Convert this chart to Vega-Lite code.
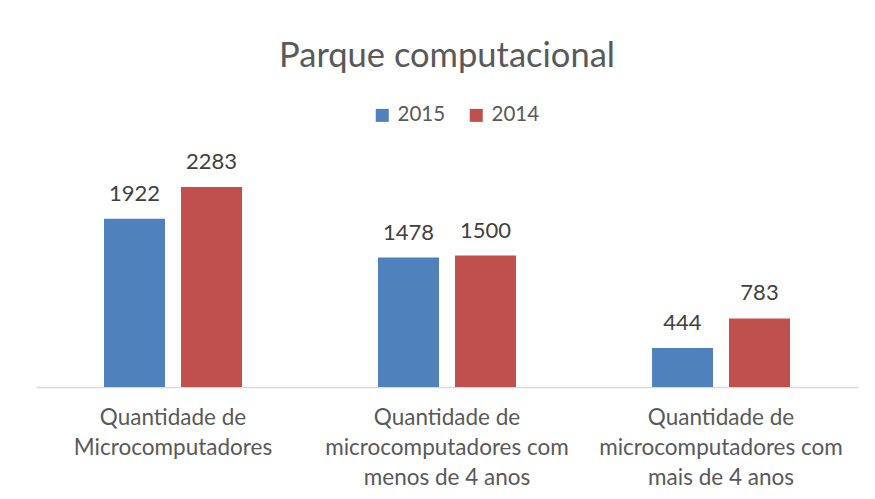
{
  "$schema": "https://vega.github.io/schema/vega-lite/v6.json",
  "autosize": {"type": "none"},
  "width": 822,
  "height": 200,
  "padding": {"left": 36, "top": 187, "right": 17, "bottom": 112},
  "background": "white",
  "config": {"view": {"stroke": null}, "font": "Lato"},
  "title": {"text": "Parque computacional", "fontSize": 34.5, "fontWeight": "normal", "color": "#595959", "anchor": "middle", "offset": 31, "font": "Lato"},
  "data": {"values": [
    {"cat": "Quantidade de|Microcomputadores", "ano": "2015", "valor": 1922},
    {"cat": "Quantidade de|Microcomputadores", "ano": "2014", "valor": 2283},
    {"cat": "Quantidade de|microcomputadores com|menos de 4 anos", "ano": "2015", "valor": 1478},
    {"cat": "Quantidade de|microcomputadores com|menos de 4 anos", "ano": "2014", "valor": 1500},
    {"cat": "Quantidade de|microcomputadores com|mais de 4 anos", "ano": "2015", "valor": 444},
    {"cat": "Quantidade de|microcomputadores com|mais de 4 anos", "ano": "2014", "valor": 783}
  ]},
  "encoding": {
    "x": {"field": "cat", "type": "nominal", "sort": null,
      "scale": {"paddingInner": 0, "paddingOuter": 0},
      "axis": {"title": null, "labelAngle": 0, "ticks": false, "domainColor": "#D9D9D9", "domainWidth": 1.5,
        "labelExpr": "split(datum.label, '|')", "labelFontSize": 22.5, "labelColor": "#595959", "labelLineHeight": 30,
        "labelPadding": 19, "labelFont": "Lato", "labelLimit": 0}},
    "xOffset": {"field": "ano", "type": "nominal", "sort": ["2015", "2014"],
      "scale": {"paddingInner": 0.208, "paddingOuter": 0.883}},
    "y": {"field": "valor", "type": "quantitative", "scale": {"domain": [0, 2283], "nice": false}, "axis": null}
  },
  "layer": [
    {"mark": {"type": "bar"},
     "encoding": {"color": {"field": "ano", "type": "nominal", "sort": ["2015", "2014"],
       "scale": {"domain": ["2015", "2014"], "range": ["#4F81BD", "#C0504D"]},
       "legend": {"title": null, "orient": "none", "legendX": 336, "legendY": -82, "direction": "horizontal",
         "symbolType": "square", "symbolSize": 169, "symbolStrokeWidth": 0, "labelFontSize": 20.5, "labelColor": "#595959",
         "labelFont": "Lato", "columnPadding": 20, "labelOffset": 5}}}},
    {"mark": {"type": "text", "baseline": "alphabetic", "dy": -18, "fontSize": 22, "color": "#404040", "font": "Lato"},
     "encoding": {"text": {"field": "valor", "type": "quantitative"}}}
  ]
}
